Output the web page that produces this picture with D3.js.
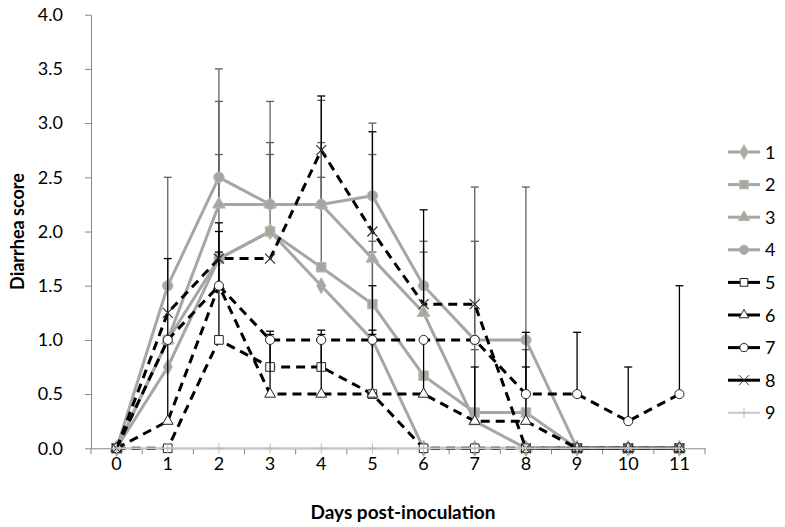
<!DOCTYPE html>
<html><head><meta charset="utf-8">
<script src="https://cdn.jsdelivr.net/npm/d3@7"></script>
<style>body{margin:0;background:#fff}svg{display:block}text{font-family:Lato,"Open Sans",sans-serif}</style>
</head><body><svg id="c" width="785" height="527"></svg>
<script>
const days = [0,1,2,3,4,5,6,7,8,9,10,11];
const yTicks = [0,0.5,1,1.5,2,2.5,3,3.5,4];
const seriesNames = ["1","2","3","4","5","6","7","8","9"];
const s1 = [0,0.75,1.75,2.0,1.5,1.0,0,0,0,0,0,0];
const s2 = [0,1.0,1.75,2.0,1.67,1.33,0.67,0.33,0.33,0,0,0];
const s3 = [0,1.0,2.25,2.25,2.25,1.75,1.25,0.25,0,0,0,0];
const s4 = [0,1.5,2.5,2.25,2.25,2.33,1.5,1.0,1.0,0,0,0];
const s5 = [0,0,1.0,0.75,0.75,0.5,0,0,0,0,0,0];
const s6 = [0,0.25,1.5,0.5,0.5,0.5,0.5,0.25,0.25,0,0,0];
const s7 = [0,1.0,1.5,1.0,1.0,1.0,1.0,1.0,0.5,0.5,0.25,0.5];
const s8 = [0,1.25,1.75,1.75,2.75,2.0,1.33,1.33,0,0,0,0];
const s9 = [0,0,0,0,0,0,0,0,0,0,0,0];
// upper error amounts
const e1 = [0,0,0,0.71,0,0.81,0,0,0,0,0,0];
const e2 = [0,0,0.96,0,0.83,0.58,0,0.58,0.58,0,0,0];
const e3 = [0,0,0.95,0.95,0.96,0.96,0.56,1.66,0,0,0,0];
const e4 = [0,1.0,1.0,0.57,0.57,0.67,0.41,1.41,1.41,0,0,0];
const e5 = [0,0,0.81,0.3,0.3,0.55,0,0,0,0,0,0];
const e6 = [0,1.5,0.5,0.58,0.59,0.59,0.5,0.5,0.5,0,0,0];
const e7 = [0,0,0.58,0,0,0.5,0,0,0.57,0.57,0.5,1.0];
const e8 = [0,0,0,0,0.5,0.92,0.87,0,0,0,0,0];
const e9 = [0,0,0,0,0,0,0,0,0,0,0,0];

const values = [s1,s2,s3,s4,s5,s6,s7,s8,s9];
const errors = [e1,e2,e3,e4,e5,e6,e7,e8,e9];
const GREY="#a6a6a6", MFILL="#a6a6a6", MSTROKE="#bdb9a3";
const styles = [
 {stroke:GREY,dash:null,sym:"diamond",fill:MFILL,ms:MSTROKE,eb:"#606060",size:75},
 {stroke:GREY,dash:null,sym:"square",fill:MFILL,ms:MSTROKE,eb:"#606060",size:90},
 {stroke:GREY,dash:null,sym:"triangle",fill:MFILL,ms:MSTROKE,eb:"#606060",size:70},
 {stroke:GREY,dash:null,sym:"circle",fill:MFILL,ms:MSTROKE,eb:"#606060",size:85},
 {stroke:"#000",dash:"9,6",sym:"square",fill:"#fff",ms:"#222",eb:"#000",size:75},
 {stroke:"#000",dash:"9,6",sym:"triangle",fill:"#fff",ms:"#222",eb:"#000",size:50},
 {stroke:"#000",dash:"9,6",sym:"circle",fill:"#fff",ms:"#222",eb:"#000",size:65},
 {stroke:"#000",dash:"9,6",sym:"x",fill:"none",ms:"#333",eb:"#000",size:0},
 {stroke:"#c8c8c8",dash:null,sym:"plus",fill:"none",ms:"#bbb",eb:"#000",size:0}
];

const svg = d3.select("#c");
const L=91, R=705, T=14.7, B=448.3;
const x = d3.scaleBand().domain(days).range([L,R]);
const y = d3.scaleLinear().domain([0,4]).range([B,T]);
const cx = d => x(d)+x.bandwidth()/2;

// axes
const ya = svg.append("g").attr("transform",`translate(${L},0)`)
  .call(d3.axisLeft(y).tickValues(yTicks).tickFormat(d3.format(".1f")).tickSize(6).tickSizeOuter(0));
ya.select(".domain").attr("stroke","#868686");
ya.selectAll(".tick line").attr("stroke","#868686");
ya.selectAll(".tick text").attr("font-size",18).attr("fill","#000").attr("x",-28);

const xa = svg.append("g").attr("transform",`translate(0,${B})`)
  .call(d3.axisBottom(x).tickSize(0).tickSizeOuter(0));
xa.select(".domain").attr("stroke","#868686");
xa.selectAll(".tick text").attr("font-size",18).attr("fill","#000").attr("dy","1.05em");
// tick marks at category boundaries
const bounds = days.map(d=>x(d)).concat([R]);
svg.append("g").selectAll("line").data(bounds).join("line")
  .attr("x1",d=>d).attr("x2",d=>d).attr("y1",B).attr("y2",B+6).attr("stroke","#868686");

svg.append("text").attr("x",(L+R)/2+5).attr("y",519).attr("text-anchor","middle")
  .attr("font-size",19).attr("font-weight","bold").text("Days post-inoculation");
svg.append("text").attr("transform",`translate(24,${(T+B)/2}) rotate(-90)`).attr("text-anchor","middle")
  .attr("font-size",18).attr("font-weight","bold").text("Diarrhea score");

function symbolPath(sym, size){
  const m = {diamond:d3.symbolDiamond,square:d3.symbolSquare,triangle:d3.symbolTriangle,circle:d3.symbolCircle};
  if(sym==="x") return "M-5,-5L5,5M-5,5L5,-5";
  if(sym==="plus") return "M-5,0L5,0M0,-5L0,5";
  return d3.symbol(m[sym], size)();
}

const line = d3.line().x((v,i)=>cx(days[i])).y(v=>y(v));
const g = svg.append("g");
values.forEach((vals,k)=>{
  const st = styles[k];
  const sg = g.append("g");
  const eb = sg.append("g").attr("stroke",st.eb).attr("stroke-width",1.3);
  vals.forEach((v,i)=>{
    const e = errors[k][i];
    if(!e) return;
    const X = cx(days[i]);
    eb.append("line").attr("x1",X).attr("x2",X).attr("y1",y(v)).attr("y2",y(v+e));
    eb.append("line").attr("x1",X-4).attr("x2",X+4).attr("y1",y(v+e)).attr("y2",y(v+e));
  });
  sg.append("path").attr("d",line(vals)).attr("fill","none").attr("stroke",st.stroke)
    .attr("stroke-width",k===8?2:3).attr("stroke-dasharray",st.dash);
  sg.selectAll("path.m").data(vals).join("path").attr("class","m")
    .attr("transform",(v,i)=>`translate(${cx(days[i])},${y(v)})`)
    .attr("d",symbolPath(st.sym,st.size))
    .attr("fill",st.fill).attr("stroke",st.ms).attr("stroke-width",k===7?1.2:1);
});

// legend
const lg = svg.append("g");
seriesNames.forEach((n,k)=>{
  const st = styles[k];
  const yy = 152 + k*32.6;
  const row = lg.append("g").attr("transform",`translate(0,${yy})`);
  row.append("line").attr("x1",728).attr("x2",760).attr("y1",0).attr("y2",0)
    .attr("stroke",st.stroke).attr("stroke-width",k===8?2:3);
  row.append("path").attr("transform","translate(744,0)")
    .attr("d",symbolPath(st.sym,st.size*0.8)).attr("fill",st.fill)
    .attr("stroke",st.ms).attr("stroke-width",1);
  row.append("text").attr("x",765).attr("y",6.5).attr("font-size",18).attr("fill","#000").text(n);
});
</script></body></html>
